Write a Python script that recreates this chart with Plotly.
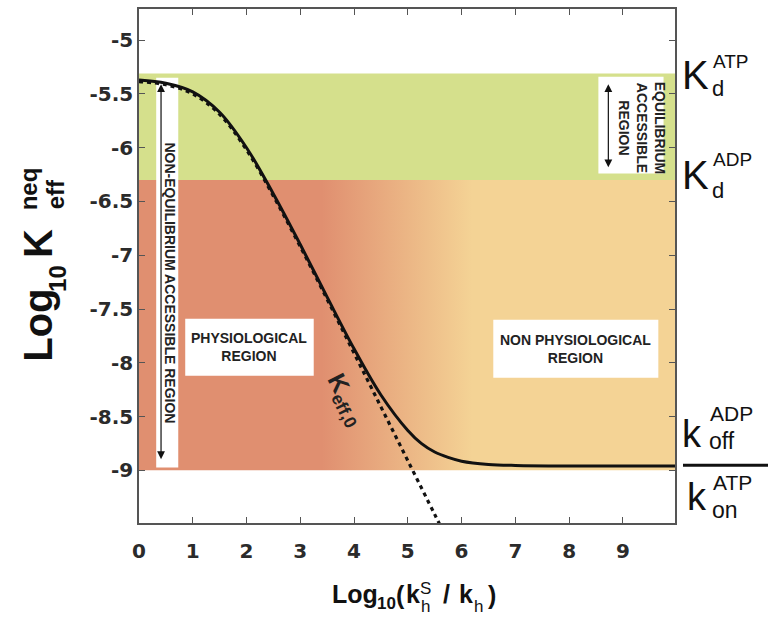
import plotly.graph_objects as go

# Effective constant (solid) and its zero-order limit K_eff,0 (dotted), log10 units
x_keff = [0, 0.5, 1, 1.5, 2, 2.5, 3, 3.5, 4, 4.5, 5, 5.25, 5.5, 5.75, 6, 6.5, 7, 8, 9, 10]
log_keff = [-5.37, -5.40, -5.48, -5.67, -6.00, -6.43, -6.90, -7.39, -7.87, -8.30,
            -8.63, -8.75, -8.83, -8.88, -8.915, -8.945, -8.955, -8.96, -8.96, -8.96]
x_keff0 = [0, 0.5, 1, 1.5, 2, 2.5, 3, 3.5, 4, 4.5, 5, 5.5, 5.7]
log_keff0 = [-5.385, -5.415, -5.50, -5.69, -6.02, -6.45, -6.92, -7.41, -7.91, -8.41,
             -8.91, -9.41, -9.61]

# reference levels
log_kd_atp = -5.31
log_kd_adp = -6.30
log_koff_over_kon = -9.0

x_tick_vals = [0, 1, 2, 3, 4, 5, 6, 7, 8, 9]
y_tick_vals = [-5, -5.5, -6, -6.5, -7, -7.5, -8, -8.5, -9]
y_tick_text = ["-5", "-5.5", "-6", "-6.5", "-7", "-7.5", "-8", "-8.5", "-9"]

X_RANGE = [0, 9.97]
Y_RANGE = [-9.49, -4.71]

GREEN = "#d5e08c"
SALMON = "#e08f70"
SAND = "#f4d395"
INK = "#111111"
TEXT = "#222222"
SANS = "Liberation Sans, Arial, sans-serif"
NARROW = "Liberation Sans Narrow, Arial Narrow, Liberation Sans, sans-serif"

W, H = 768, 622
PL, PR, PT, PB = 139, 675, 7, 523  # plot-area edges in pixels


def paper(xp, yp):
    return (xp - PL) / (PR - PL), (PB - yp) / (PB - PT)


fig = go.Figure()

# equilibrium-accessible band between the two dissociation constants
fig.add_shape(type="rect", xref="x", yref="y", x0=0, x1=10,
              y0=log_kd_adp, y1=log_kd_atp, fillcolor=GREEN,
              line_width=0, layer="below")

# physiological -> non-physiological band, shaded left to right
fig.add_trace(go.Scatter(
    x=[0, 10, 10, 0], y=[log_kd_adp, log_kd_adp, log_koff_over_kon, log_koff_over_kon],
    fill="toself", mode="none", hoverinfo="skip",
    fillgradient=dict(type="horizontal",
                      colorscale=[[0, SALMON], [0.34, SALMON], [0.62, SAND], [1, SAND]]),
))

# white label panels
panels = [(0.32, 0.73, -5.35, -8.975),
          (0.86, 3.25, -7.59, -8.12),
          (6.59, 9.66, -7.60, -8.14),
          (8.545, 9.757, -5.34, -6.24)]
bx, by = [], []
for x0, x1, y0, y1 in panels:
    bx += [x0, x1, x1, x0, x0, None]
    by += [y0, y0, y1, y1, y0, None]
fig.add_trace(go.Scatter(x=bx, y=by, fill="toself", fillcolor="white",
                         mode="none", hoverinfo="skip"))

# curves
fig.add_trace(go.Scatter(x=x_keff, y=log_keff, mode="lines", hoverinfo="skip",
                         line=dict(color=INK, width=3, shape="spline")))
fig.add_trace(go.Scatter(x=x_keff0, y=log_keff0, mode="lines", hoverinfo="skip",
                         line=dict(color=INK, width=3.2, dash="4px,4px", shape="spline")))

# double-headed arrows
for xa, ytop, ybot in [(0.41, -5.41, -8.91), (8.73, -5.41, -6.195)]:
    fig.add_annotation(x=xa, y=ytop, ax=xa, ay=ybot, xref="x", yref="y",
                       axref="x", ayref="y", text="", showarrow=True,
                       arrowhead=2, arrowside="end+start", arrowsize=1.3,
                       arrowwidth=1.2, arrowcolor=INK)

region_font = dict(family=SANS, size=14, color=TEXT, weight="bold")
fig.add_annotation(x=0.58, y=-7.254, xref="x", yref="y", showarrow=False,
                   text="NON-EQUILIBRIUM ACCESSIBLE REGION", textangle=90,
                   font=region_font)
fig.add_annotation(x=9.35, y=-5.82, xref="x", yref="y", showarrow=False,
                   text="EQUILIBRIUM<br>ACCESSIBLE<br>REGION", textangle=90,
                   font=region_font)
fig.add_annotation(x=2.05, y=-7.857, xref="x", yref="y", showarrow=False,
                   text="PHYSIOLOGICAL<br>REGION", font=region_font)
fig.add_annotation(x=8.125, y=-7.87, xref="x", yref="y", showarrow=False,
                   text="NON PHYSIOLOGICAL<br>REGION", font=region_font)
fig.add_annotation(x=3.84, y=-8.35, xref="x", yref="y", showarrow=False,
                   text="K<sub>eff,0</sub>", textangle=63,
                   font=dict(family=SANS, size=25, color=TEXT, weight="bold"))


def label(text, xp, yp, size, bold=False, angle=0, xanchor="center", family=SANS):
    x, y = paper(xp, yp)
    fig.add_annotation(x=x, y=y, xref="paper", yref="paper", text=text,
                       showarrow=False, textangle=angle, xanchor=xanchor,
                       yanchor="middle",
                       font=dict(family=family, size=size, color=INK,
                                 weight="bold" if bold else "normal"))


# y-axis title: Log10 K_eff^neq
label("Log", 38, 325, 40, bold=True, angle=-90, family=NARROW)
label("10", 58, 278, 24, bold=True, angle=-90, family=NARROW)
label("K", 38, 243, 40, bold=True, angle=-90, family=NARROW)
label("eff", 55, 193, 24, bold=True, angle=-90, family=NARROW)
label("neq", 28, 188, 24, bold=True, angle=-90, family=NARROW)

# x-axis title: Log10(k_h^S / k_h)
label("Log", 355, 594, 25, bold=True)
label("10", 386, 604, 17, bold=True)
label("(", 400, 595, 25, bold=True)
label("k", 412.5, 594, 25, bold=True)
label("S", 425, 589, 17)
label("h", 425.5, 607, 17)
label("/", 446, 594, 25, bold=True)
label("k", 465.5, 594, 25, bold=True)
label("h", 478, 607, 17)
label(")", 492, 595, 25, bold=True)

# right-hand reference levels
label("K", 680, 73, 40, xanchor="left")
label("ATP", 711, 60, 19, xanchor="left")
label("d", 710, 87, 22, xanchor="left")
label("K", 680, 174, 40, xanchor="left")
label("ADP", 711, 158, 19, xanchor="left")
label("d", 710, 189, 22, xanchor="left")
label("k", 680, 434, 38, xanchor="left")
label("ADP", 708, 413, 21, xanchor="left")
label("off", 707, 441, 23, xanchor="left")
label("k", 685, 497, 38, xanchor="left")
label("ATP", 711, 482, 21, xanchor="left")
label("on", 710, 510, 23, xanchor="left")
fx0, fy = paper(683, 465)
fx1, _ = paper(768, 465)
fig.add_shape(type="line", xref="paper", yref="paper", x0=fx0, x1=fx1,
              y0=fy, y1=fy, line=dict(color=INK, width=3))

axis_common = dict(ticks="inside", ticklen=6, tickwidth=1.2, tickcolor="#555555",
                   showline=True, linecolor="#555555", linewidth=1.5,
                   mirror="ticks", showgrid=False, zeroline=False,
                   tickfont=dict(family="DejaVu Sans", size=20, color="#2b2b2b",
                                 weight="bold"))
fig.update_xaxes(range=X_RANGE, tickvals=x_tick_vals, ticklabelstandoff=9,
                 **axis_common)
fig.update_yaxes(range=Y_RANGE, tickvals=y_tick_vals, ticktext=y_tick_text,
                 **axis_common)

fig.update_layout(width=W, height=H, showlegend=False,
                  margin=dict(l=PL, r=W - PR, t=PT, b=H - PB, pad=0),
                  plot_bgcolor="white", paper_bgcolor="white",
                  hovermode=False)

fig.write_html("out.html")
